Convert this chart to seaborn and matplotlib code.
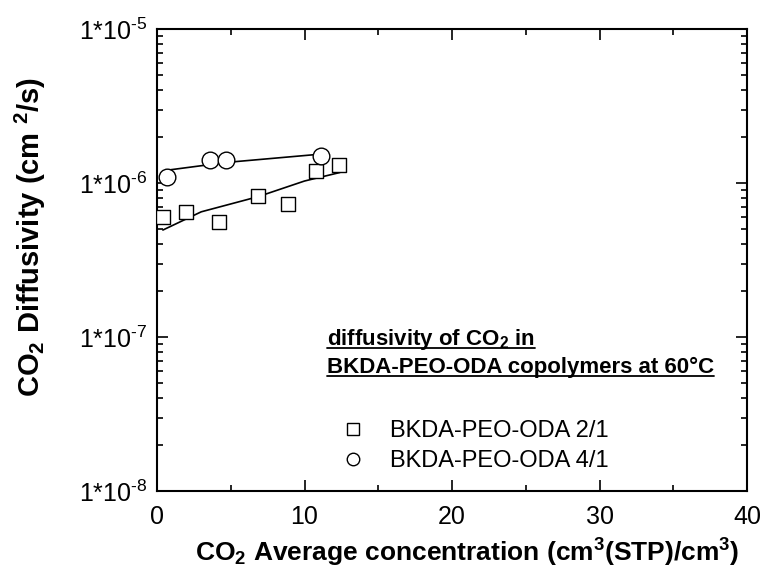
import matplotlib
matplotlib.use("Agg")
import matplotlib.pyplot as plt
import seaborn as sns
import numpy as np
import pandas as pd
from matplotlib.lines import Line2D
from matplotlib.ticker import LogLocator, NullFormatter, MultipleLocator

sns.set_style("ticks")
plt.rcParams['font.family'] = ['Liberation Sans', 'DejaVu Sans']
plt.rcParams['mathtext.fontset'] = 'custom'
plt.rcParams['mathtext.rm'] = 'Liberation Sans'
plt.rcParams['mathtext.bf'] = 'Liberation Sans:bold'
plt.rcParams['mathtext.it'] = 'Liberation Sans:italic'
for k in ['text.color', 'axes.labelcolor', 'xtick.color', 'ytick.color', 'axes.edgecolor']:
    plt.rcParams[k] = 'black'

# data
conc_21 = [0.43, 1.97, 4.2, 6.85, 8.9, 10.78, 12.34]
diff_21 = [6.04e-7, 6.51e-7, 5.61e-7, 8.24e-7, 7.31e-7, 1.20e-6, 1.30e-6]
conc_41 = [0.66, 3.59, 4.66, 11.12]
diff_41 = [1.10e-6, 1.40e-6, 1.40e-6, 1.50e-6]
fit_conc_21 = [0.4, 3.0, 6.85, 10.0, 12.4]
fit_diff_21 = [4.95e-7, 6.5e-7, 8.15e-7, 1.03e-6, 1.17e-6]
fit_conc_41 = [0.66, 4.7, 11.1]
fit_diff_41 = [1.21e-6, 1.36e-6, 1.54e-6]
series_names = ["BKDA-PEO-ODA 2/1", "BKDA-PEO-ODA 4/1"]
ytick_vals = [1e-8, 1e-7, 1e-6, 1e-5]
ytick_labels = [r"1*10$^{\text{-8}}$", r"1*10$^{\text{-7}}$", r"1*10$^{\text{-6}}$", r"1*10$^{\text{-5}}$"]
xtick_vals = [0, 10, 20, 30, 40]

fig = plt.figure(figsize=(7.65, 5.87), dpi=100)
ax = fig.add_axes([157/765, 1-491/587, 590/765, 462/587])

df21 = pd.DataFrame({"c": conc_21, "d": diff_21})
df41 = pd.DataFrame({"c": conc_41, "d": diff_41})
f21 = pd.DataFrame({"c": fit_conc_21, "d": fit_diff_21})
f41 = pd.DataFrame({"c": fit_conc_41, "d": fit_diff_41})

sns.lineplot(data=f21, x="c", y="d", ax=ax, color="black", lw=1.2, sort=True, zorder=2)
sns.lineplot(data=f41, x="c", y="d", ax=ax, color="black", lw=1.2, sort=True, zorder=2)
sns.scatterplot(data=df21, x="c", y="d", ax=ax, marker="s", s=9.5**2,
                facecolor="white", edgecolor="black", linewidth=1.0, zorder=3)
sns.scatterplot(data=df41, x="c", y="d", ax=ax, marker="o", s=12**2,
                facecolor="white", edgecolor="black", linewidth=1.0, zorder=4)

ax.set_yscale("log")
ax.set_xlim(0, 40)
ax.set_ylim(1e-8, 1e-5)
ax.set_xticks(xtick_vals)
ax.set_xticklabels([str(v) for v in xtick_vals], fontsize=18)
ax.xaxis.set_minor_locator(MultipleLocator(5))
ax.set_yticks(ytick_vals)
ax.set_yticklabels(ytick_labels, fontsize=18)
ax.yaxis.set_minor_locator(LogLocator(base=10, subs=np.arange(2, 10), numticks=20))
ax.yaxis.set_minor_formatter(NullFormatter())
ax.tick_params(which="both", direction="in", top=True, right=True, color="black", width=1.2)
ax.tick_params(which="major", length=8)
ax.tick_params(which="minor", length=4)
ax.tick_params(axis="x", which="major", pad=10)
ax.tick_params(axis="y", which="major", pad=7)
for sp in ax.spines.values():
    sp.set_linewidth(1.5)
    sp.set_color("black")

ax.set_xlabel(r"CO$_{\mathbf{2}}$ Average concentration (cm$^{\mathbf{3}}$(STP)/cm$^{\mathbf{3}}$)",
              fontsize=19, fontweight="bold", va="center")
ax.xaxis.set_label_coords((467-157)/590, (491-553)/462)
ax.set_ylabel(r"CO$_{\mathbf{2}}$ Diffusivity (cm $^{\mathbf{2}}$/s)",
              fontsize=21, fontweight="bold", va="center")
ax.yaxis.set_label_coords((30-157)/590, (491-237)/462)

t1 = ax.text(327/765, 1-345/587, r"diffusivity of CO$_{\mathbf{2}}$ in", transform=fig.transFigure,
             fontsize=16, fontweight="bold", ha="left", va="baseline")
t2 = ax.text(327/765, 1-373/587, "BKDA-PEO-ODA copolymers at 60°C", transform=fig.transFigure,
             fontsize=16, fontweight="bold", ha="left", va="baseline")
fig.canvas.draw()
r = fig.canvas.get_renderer()
for t, ybase in ((t1, 345), (t2, 373)):
    bb = t.get_window_extent(r)
    yline = (587 - ybase - 3) / 587
    fig.add_artist(Line2D([bb.x0 / 765, bb.x1 / 765], [yline, yline], color="black", lw=1.3))

handles = [Line2D([], [], marker="s", ls="none", mfc="white", mec="black", ms=8.5, mew=1.0),
           Line2D([], [], marker="o", ls="none", mfc="white", mec="black", ms=9, mew=1.0)]
ax.legend(handles, series_names, frameon=False, fontsize=17, loc="center left",
          bbox_to_anchor=(329/765, 1-446/587), bbox_transform=fig.transFigure,
          handletextpad=1.1, labelspacing=0.35, borderpad=0, handlelength=1.0)

fig.savefig("out.png", dpi=100)
